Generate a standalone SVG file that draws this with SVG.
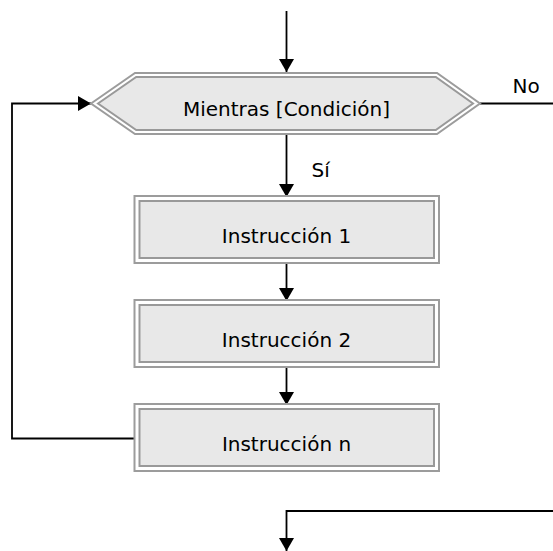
<svg xmlns="http://www.w3.org/2000/svg" width="553" height="551" viewBox="0 0 553 551">
<style>
.outer{fill:#ffffff;stroke:#9c9c9c;stroke-width:2}
.inner{fill:#e8e8e8;stroke:#999999;stroke-width:2}
.lbl{font-family:"DejaVu Sans",Verdana,sans-serif;font-size:20px;fill:#000000}
.c{text-anchor:middle}
.wire{fill:none;stroke:#000000;stroke-width:1.8}
</style>
<defs>
<marker id="ah" viewBox="0 0 13 15" refX="13" refY="7.5" markerWidth="13" markerHeight="15" markerUnits="userSpaceOnUse" orient="auto">
<path d="M0,0 L13,7.5 L0,15 z" fill="#000000"/>
</marker>
</defs>
<g id="connectors">
<line class="wire" x1="286.5" y1="11" x2="286.5" y2="72" marker-end="url(#ah)"/>
<line class="wire" x1="286.5" y1="134" x2="286.5" y2="197" marker-end="url(#ah)"/>
<line class="wire" x1="286.5" y1="262" x2="286.5" y2="301" marker-end="url(#ah)"/>
<line class="wire" x1="286.5" y1="366" x2="286.5" y2="405" marker-end="url(#ah)"/>
<polyline class="wire" points="134.5,438.5 12,438.5 12,103.5 91,103.5" marker-end="url(#ah)"/>
<line class="wire" x1="480" y1="103.5" x2="553" y2="103.5"/>
<polyline class="wire" points="553,511 286.5,511 286.5,551" marker-end="url(#ah)"/>
<text class="lbl" x="512.5" y="92.5">No</text>
<text class="lbl" x="311.5" y="176.5">Sí</text>
</g>
<g id="mientras">
<polygon class="outer" points="91,103.5 135,73 437,73 480,103.5 437,134 135,134"/>
<polygon class="inner" points="98,103.5 136.2,77 435.8,77 473,103.5 435.8,130 136.2,130"/>
<text class="lbl c" x="286.5" y="116">Mientras [Condición]</text>
</g>
<g id="instruccion1">
<rect class="outer" x="134.5" y="196" width="304.5" height="67"/>
<rect class="inner" x="139.5" y="201" width="294.5" height="57"/>
<text class="lbl c" x="286.5" y="242.5">Instrucción 1</text>
</g>
<g id="instruccion2">
<rect class="outer" x="134.5" y="300" width="304.5" height="67"/>
<rect class="inner" x="139.5" y="305" width="294.5" height="57"/>
<text class="lbl c" x="286.5" y="346.5">Instrucción 2</text>
</g>
<g id="instruccionn">
<rect class="outer" x="134.5" y="404" width="304.5" height="67"/>
<rect class="inner" x="139.5" y="409" width="294.5" height="57"/>
<text class="lbl c" x="286.5" y="450.5">Instrucción n</text>
</g>
</svg>
